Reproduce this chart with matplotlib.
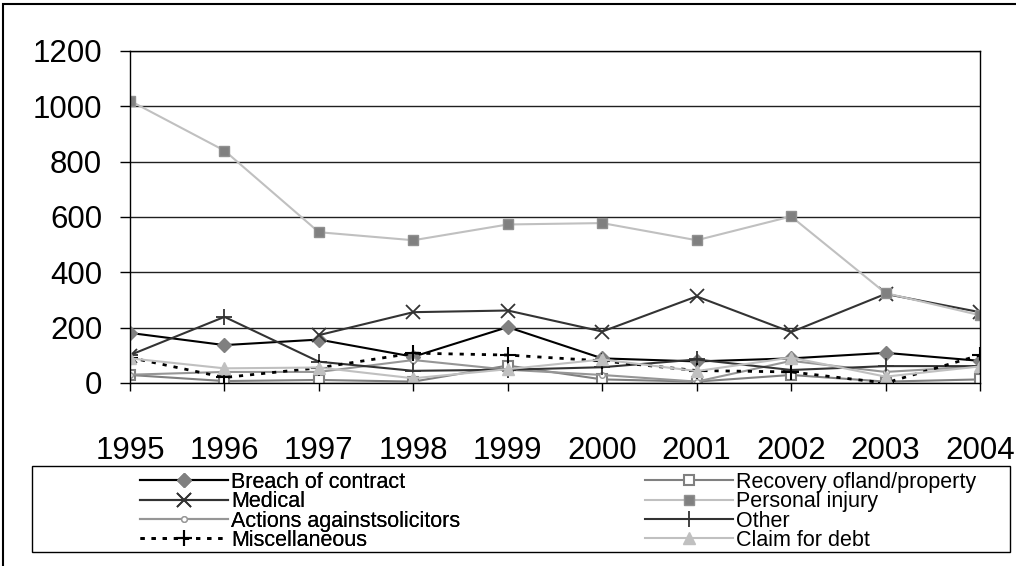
import numpy as np
import matplotlib
matplotlib.use("Agg")
import matplotlib.pyplot as plt
from matplotlib.patches import Rectangle

years = [1995, 1996, 1997, 1998, 1999, 2000, 2001, 2002, 2003, 2004]

breach = [181, 137, 157, 95, 202, 89, 78, 89, 109, 80]
recovery = [29, 7, 11, 5, 63, 13, 5, 29, 5, 13]
medical = [98, np.nan, 173, 256, 262, 186, 313, 184, 322, 256]
personal = [1020, 840, 545, 516, 573, 578, 516, 602, 325, 245]
actions = [30, 40, 40, 83, 48, 29, 5, 80, 40, 60]
other = [101, 239, 77, 44, 48, 57, 85, 47, 61, 61]
misc = [92, 20, 55, 108, 101, 80, 45, 40, 0, 101]
debt = [89, 53, 56, 17, 50, 85, 43, 92, 23, 60]

yticks = [0, 200, 400, 600, 800, 1000, 1200]

plt.rcParams['font.family'] = ['Liberation Sans', 'DejaVu Sans']

W, H = 1016, 566
fig = plt.figure(figsize=(W / 100, H / 100), dpi=100)
ax = fig.add_axes([130 / W, 1 - 383 / H, 850 / W, 332 / H])

ax.plot(years, breach, color='black', lw=1.5, marker='D', ms=7,
        mfc='#808080', mec='#808080', label='Breach of contract')
ax.plot(years, recovery, color='#808080', lw=1.5, marker='s', ms=7,
        mfc='white', mec='#808080', mew=1.5, label='Recovery ofland/property')
ax.plot(years, medical, color='#333333', lw=1.5, marker='x', ms=10,
        mec='#333333', mew=1.3, label='Medical')
ax.plot(years, personal, color='#c0c0c0', lw=1.5, marker='s', ms=7,
        mfc='#808080', mec='#909090', label='Personal injury')
ax.plot(years, actions, color='#969696', lw=1.5, marker='o', ms=4,
        mfc='white', mec='#969696', label='Actions againstsolicitors')
ax.plot(years, other, color='#333333', lw=1.5, marker='+', ms=12,
        mec='#333333', mew=1.3, label='Other')
ax.plot(years, misc, color='black', lw=2, ls=(0, (1.5, 2.5)), marker='+', ms=12,
        mec='black', mew=1.5, label='Miscellaneous')
ax.plot(years, debt, color='#c0c0c0', lw=1.5, marker='^', ms=9,
        mfc='#c0c0c0', mec='#c0c0c0', label='Claim for debt')

ax.set_xlim(1995, 2004)
ax.set_ylim(0, 1200)
ax.set_xticks(years)
ax.set_yticks(yticks)
ax.yaxis.grid(True, color='#202020', lw=1)
ax.set_axisbelow(True)
for s in ax.spines.values():
    s.set_color('black')
    s.set_linewidth(1)
ax.tick_params(axis='y', direction='out', length=7, width=1, pad=13, labelsize=22.5)
ax.tick_params(axis='x', direction='out', length=6, width=1, pad=32, labelsize=22.5)

# legend: box plus two frameless columns, Excel row order
handles, labels = ax.get_legend_handles_labels()
fig.patches.append(Rectangle((32 / W, 1 - 552 / H), 978 / W, 86 / H,
                             transform=fig.transFigure, fill=False,
                             edgecolor='black', lw=1))
kw = dict(loc='upper left', frameon=False, borderaxespad=0, borderpad=0,
          handlelength=4.1, handletextpad=0.12, labelspacing=-0.08,
          prop={'size': 15.5})
leg1 = fig.legend([handles[i] for i in (0, 2, 4, 6)], [labels[i] for i in (0, 2, 4, 6)],
                  bbox_to_anchor=(140 / W, 1 - 472 / H), **kw)
fig.add_artist(leg1)
fig.legend([handles[i] for i in (1, 3, 5, 7)], [labels[i] for i in (1, 3, 5, 7)],
           bbox_to_anchor=(645 / W, 1 - 472 / H), **kw)

# outer chart border
fig.patches.append(Rectangle((3 / W, -0.1), 1.1, 1 - 4 / H + 0.1,
                             transform=fig.transFigure, fill=False,
                             edgecolor='black', lw=1.5))

fig.savefig('out.png', dpi=100)
